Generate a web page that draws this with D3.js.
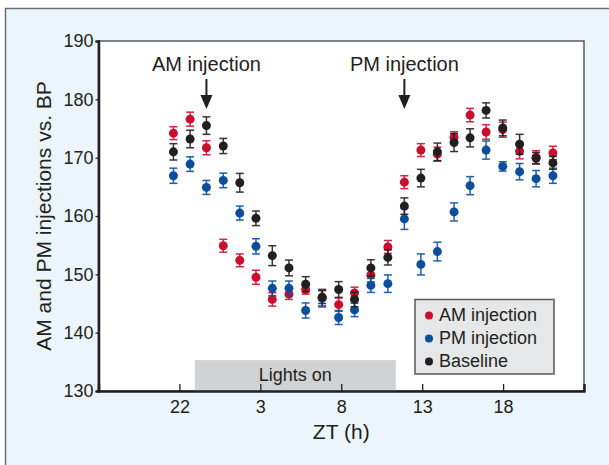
<!DOCTYPE html>
<html>
<head>
<meta charset="utf-8">
<script src="https://cdn.jsdelivr.net/npm/d3@7"></script>
<style>
  body { margin: 0; background: #fff; }
  text { font-family: "Liberation Sans", Arial, sans-serif; fill: #231f20; }
</style>
</head>
<body>
<div id="chart"></div>
<script>
var W = 609, H = 465;

// hours on a continuous axis (negative = previous evening, ZT 22 == -2)
var hours = [-2.37, -1.34, -0.33, 0.71, 1.73, 2.73, 3.74, 4.77, 5.80, 6.82, 7.84, 8.82,
             9.83, 10.88, 11.90, 12.92, 13.94, 14.97, 15.96, 16.95, 17.98, 19.02, 20.04, 21.08];

var amVals = [174.2, 176.6, 171.7, 154.9, 152.4, 149.5, 145.7, 146.6, 147.4, 146.0, 144.8, 146.8,
              149.9, 154.7, 165.8, 171.3, 170.6, 173.5, 177.3, 174.4, 174.8, 171.1, 170.1, 170.8];
var amErr  = [1.1, 1.2, 1.2, 1.1, 1.1, 1.2, 1.15, 0.9, 0.8, 1.4, 1.15, 1.0,
              1.2, 1.1, 1.1, 1.1, 1.2, 0.95, 1.15, 1.25, 1.3, 1.3, 1.1, 1.15];

var pmVals = [166.9, 168.9, 164.9, 166.1, 160.5, 154.8, 147.6, 147.6, 143.8, 145.9, 142.6, 143.9,
              148.1, 148.4, 159.5, 151.7, 153.9, 160.7, 165.2, 171.3, 168.5, 167.6, 166.4, 166.9];
var pmErr  = [1.3, 1.25, 1.2, 1.25, 1.2, 1.3, 1.25, 1.25, 1.3, 1.5, 1.2, 1.15,
              1.2, 1.5, 1.8, 1.8, 1.6, 1.55, 1.55, 1.55, 0.8, 1.4, 1.4, 1.3];

var baseVals = [171.0, 173.2, 175.5, 172.0, 165.7, 159.6, 153.2, 151.1, 148.3, 146.1, 147.4, 145.7,
                151.1, 152.9, 161.7, 166.5, 171.0, 172.6, 173.4, 178.1, 175.1, 172.3, 169.9, 169.1];
var baseErr  = [1.4, 1.5, 1.5, 1.3, 1.6, 1.25, 1.7, 1.35, 1.3, 1.1, 1.35, 1.25,
                1.4, 1.3, 1.4, 1.5, 1.5, 1.55, 1.55, 1.3, 1.35, 1.7, 1.0, 1.1];

var seriesNames = ["AM injection", "PM injection", "Baseline"];
var seriesColors = ["#c8102e", "#0b4f9c", "#231f20"];

var xTicks = [-2, 3, 8, 13, 18];
var yTicks = [130, 140, 150, 160, 170, 180, 190];
var lightsOn = [-1.05, 11.37];
var injections = [{label: "AM injection", at: -0.33}, {label: "PM injection", at: 11.9}];

var margin = {left: 98.5, right: 25, top: 41, bottom: 74};

var svg = d3.select("#chart")
    .append("svg")
    .attr("width", W)
    .attr("height", H);

// outer panel
svg.append("rect")
    .attr("x", 5.5).attr("y", 8.5)
    .attr("width", W + 10).attr("height", H + 10)
    .style("fill", "#ebf5fb")
    .style("stroke", "#6d6e70")
    .style("stroke-width", 1.5);

var x = d3.scaleLinear().domain([-7, 23]).range([margin.left, W - margin.right]);
var y = d3.scaleLinear().domain([130, 190]).range([H - margin.bottom, margin.top]);

// plot background
svg.append("rect")
    .attr("x", x(-7)).attr("y", y(190))
    .attr("width", x(23) - x(-7)).attr("height", y(130) - y(190))
    .style("fill", "#fff")
    .style("stroke", "#58595b")
    .style("stroke-width", 1.5);

// lights on band
svg.append("rect")
    .attr("x", x(lightsOn[0])).attr("y", y(135.3))
    .attr("width", x(lightsOn[1]) - x(lightsOn[0]))
    .attr("height", y(130) - y(135.3))
    .style("fill", "#d1d2d4");
svg.append("text")
    .attr("x", x((lightsOn[0] + lightsOn[1]) / 2))
    .attr("y", 381)
    .attr("text-anchor", "middle")
    .style("font-size", "18px")
    .text("Lights on");

// axes
var xAxis = d3.axisBottom(x)
    .tickValues(xTicks)
    .tickSize(-7)
    .tickPadding(9.5)
    .tickFormat(function(d) { return d < 0 ? d + 24 : d; });
var gx = svg.append("g")
    .attr("transform", "translate(0," + y(130) + ")")
    .call(xAxis);
gx.select(".domain").style("stroke", "#231f20").style("stroke-width", 2.5);
gx.selectAll(".tick line").style("stroke", "#231f20").style("stroke-width", 1.3);
gx.selectAll(".tick text").style("font-size", "18px").style("font-family", "Liberation Sans, Arial, sans-serif").style("fill", "#231f20");

var yAxis = d3.axisLeft(y)
    .tickValues(yTicks)
    .tickSize(3)
    .tickPadding(2);
var gy = svg.append("g")
    .attr("transform", "translate(" + x(-7) + ",0)")
    .call(yAxis);
gy.select(".domain").style("stroke", "#231f20").style("stroke-width", 2.5);
gy.selectAll(".tick line").style("stroke", "#231f20").style("stroke-width", 1.3);
gy.selectAll(".tick text").style("font-size", "18px").style("font-family", "Liberation Sans, Arial, sans-serif").style("fill", "#231f20");

// axis titles
svg.append("text")
    .attr("x", x(8)).attr("y", 439)
    .attr("text-anchor", "middle")
    .style("font-size", "21px")
    .text("ZT (h)");
svg.append("text")
    .attr("transform", "translate(51," + y(160) + ") rotate(-90)")
    .attr("text-anchor", "middle")
    .style("font-size", "21px")
    .text("AM and PM injections vs. BP");

// injection annotations
var ann = svg.selectAll(".ann")
    .data(injections)
    .enter()
    .append("g")
    .attr("transform", function(d) { return "translate(" + x(d.at) + ",0)"; });
ann.append("text")
    .attr("y", 70.5)
    .attr("text-anchor", "middle")
    .style("font-size", "20px")
    .text(function(d) { return d.label; });
ann.append("line")
    .attr("x1", 0).attr("x2", 0)
    .attr("y1", 79).attr("y2", 97)
    .style("stroke", "#231f20")
    .style("stroke-width", 2);
ann.append("path")
    .attr("d", "M-6,95 L6,95 L0,109 Z")
    .style("fill", "#231f20");

// points with error bars
var allVals = [amVals, pmVals, baseVals];
var allErr = [amErr, pmErr, baseErr];

allVals.forEach(function(vals, s) {
    var pts = vals.map(function(v, i) { return {t: hours[i], v: v, e: allErr[s][i]}; });
    var col = seriesColors[s];
    var g = svg.append("g");
    var bars = g.selectAll("g")
        .data(pts)
        .enter()
        .append("g")
        .style("stroke", col)
        .style("stroke-width", 1.5)
        .style("opacity", 0.9);
    bars.append("line")
        .attr("x1", function(d) { return x(d.t); })
        .attr("x2", function(d) { return x(d.t); })
        .attr("y1", function(d) { return y(d.v - d.e); })
        .attr("y2", function(d) { return y(d.v + d.e); });
    bars.append("line")
        .attr("x1", function(d) { return x(d.t) - 4; })
        .attr("x2", function(d) { return x(d.t) + 4; })
        .attr("y1", function(d) { return y(d.v - d.e); })
        .attr("y2", function(d) { return y(d.v - d.e); });
    bars.append("line")
        .attr("x1", function(d) { return x(d.t) - 4; })
        .attr("x2", function(d) { return x(d.t) + 4; })
        .attr("y1", function(d) { return y(d.v + d.e); })
        .attr("y2", function(d) { return y(d.v + d.e); });
    g.selectAll("circle")
        .data(pts)
        .enter()
        .append("circle")
        .attr("cx", function(d) { return x(d.t); })
        .attr("cy", function(d) { return y(d.v); })
        .attr("r", 4.5)
        .style("fill", col);
});

// legend
var lg = svg.append("g").attr("transform", "translate(415,299.5)");
lg.append("rect")
    .attr("width", 139).attr("height", 74.5)
    .style("fill", "#e6e7e8")
    .style("stroke", "#58595b")
    .style("stroke-width", 1.5);
var items = lg.selectAll(".item")
    .data(seriesNames)
    .enter()
    .append("g")
    .attr("transform", function(d, i) { return "translate(14," + (16 + i * 23) + ")"; });
items.append("circle")
    .attr("r", 4)
    .style("fill", function(d, i) { return seriesColors[i]; });
items.append("text")
    .attr("x", 10)
    .attr("y", 5)
    .style("font-size", "18px")
    .text(function(d) { return d; });
</script>
</body>
</html>
